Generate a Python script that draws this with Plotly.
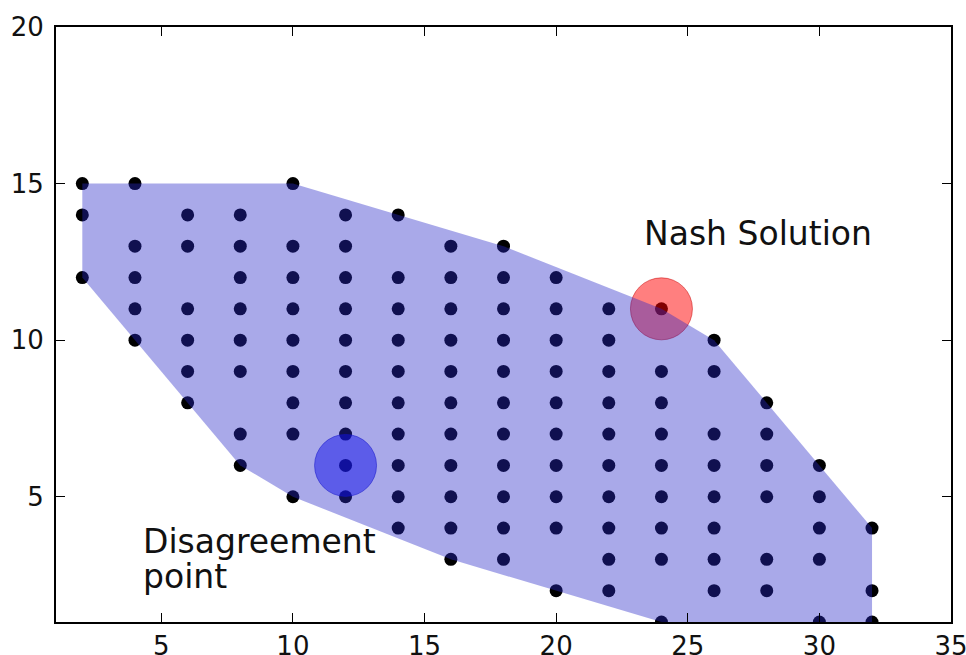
import plotly.graph_objects as go

# Feasible outcomes (payoff pairs), read row by row
row_y = [15, 14, 13, 12, 11, 10, 9, 8, 7, 6, 5, 4, 3, 2, 1]
row_x = [
    [2, 4, 10],
    [2, 6, 8, 12, 14],
    [4, 6, 8, 10, 12, 16, 18],
    [2, 4, 8, 10, 12, 14, 16, 18, 20],
    [4, 6, 8, 10, 12, 14, 16, 18, 20, 22, 24],
    [4, 6, 8, 10, 12, 14, 16, 18, 20, 22, 26],
    [6, 8, 10, 12, 14, 16, 18, 20, 22, 24, 26],
    [6, 10, 12, 14, 16, 18, 20, 22, 24, 28],
    [8, 10, 12, 14, 16, 18, 20, 22, 24, 26, 28],
    [8, 12, 14, 16, 18, 20, 22, 24, 26, 28, 30],
    [10, 12, 14, 16, 18, 20, 22, 24, 26, 28, 30],
    [14, 16, 18, 20, 22, 24, 26, 30, 32],
    [16, 18, 22, 24, 26, 28, 30],
    [20, 22, 26, 28, 32],
    [24, 30, 32],
]

nash_point = (24, 11)
disagreement_point = (12, 6)

x_ticks = [5, 10, 15, 20, 25, 30, 35]
y_ticks = [5, 10, 15, 20]

outcome_x = [x for xs, y in zip(row_x, row_y) for x in xs]
outcome_y = [y for xs, y in zip(row_x, row_y) for x in xs]


def convex_hull(pts):
    pts = sorted(set(pts))

    def cross(o, a, b):
        return (a[0] - o[0]) * (b[1] - o[1]) - (a[1] - o[1]) * (b[0] - o[0])

    lower, upper = [], []
    for p in pts:
        while len(lower) >= 2 and cross(lower[-2], lower[-1], p) <= 0:
            lower.pop()
        lower.append(p)
    for p in reversed(pts):
        while len(upper) >= 2 and cross(upper[-2], upper[-1], p) <= 0:
            upper.pop()
        upper.append(p)
    return lower[:-1] + upper[:-1]


hull = convex_hull(list(zip(outcome_x, outcome_y)))
hull_x = [p[0] for p in hull] + [hull[0][0]]
hull_y = [p[1] for p in hull] + [hull[0][1]]

fig = go.Figure()
fig.add_trace(go.Scatter(
    x=outcome_x, y=outcome_y, mode="markers",
    marker=dict(color="black", size=13, line=dict(width=0)),
    showlegend=False, hoverinfo="skip"))
fig.add_trace(go.Scatter(
    x=[nash_point[0]], y=[nash_point[1]], mode="markers",
    marker=dict(color="rgba(255,0,0,0.5)", size=62,
                line=dict(width=1, color="rgba(200,0,0,0.5)")),
    showlegend=False))
fig.add_trace(go.Scatter(
    x=[disagreement_point[0]], y=[disagreement_point[1]], mode="markers",
    marker=dict(color="rgba(0,0,255,0.5)", size=62,
                line=dict(width=1, color="rgba(0,0,200,0.5)")),
    showlegend=False))
fig.add_trace(go.Scatter(
    x=hull_x, y=hull_y, mode="none", fill="toself",
    fillcolor="rgba(40,40,200,0.4)", showlegend=False, hoverinfo="skip"))

font = "DejaVu Sans, Verdana, sans-serif"
txt = dict(family=font, size=33, color="#111")
fig.add_annotation(x=23.25, y=13.4, text="Nash Solution", showarrow=False,
                   xanchor="left", yanchor="middle", font=txt)
fig.add_annotation(x=4.23, y=3.57, text="Disagreement", showarrow=False,
                   xanchor="left", yanchor="middle", font=txt)
fig.add_annotation(x=4.23, y=2.45, text="point", showarrow=False,
                   xanchor="left", yanchor="middle", font=txt)

axis_common = dict(
    showgrid=False, zeroline=False, showline=True, linecolor="black",
    linewidth=2, mirror="ticks", ticks="inside", ticklen=9, tickwidth=1,
    tickcolor="black", tickfont=dict(family=font, size=26, color="#111"),
    automargin=False, ticklabeloverflow="allow",
)
fig.update_xaxes(range=[1, 35], tickvals=x_ticks, **axis_common)
fig.update_yaxes(range=[1, 20], tickvals=y_ticks, ticklabelstandoff=5,
                 **axis_common)

fig.update_layout(
    width=966, height=655,
    margin=dict(l=56, r=15, t=27, b=33),
    plot_bgcolor="white", paper_bgcolor="white",
)

fig.write_html(
    "out.html",
    config={"displayModeBar": False},
    post_script="document.body.style.margin='0px';"
                "document.body.style.overflow='hidden';",
)
